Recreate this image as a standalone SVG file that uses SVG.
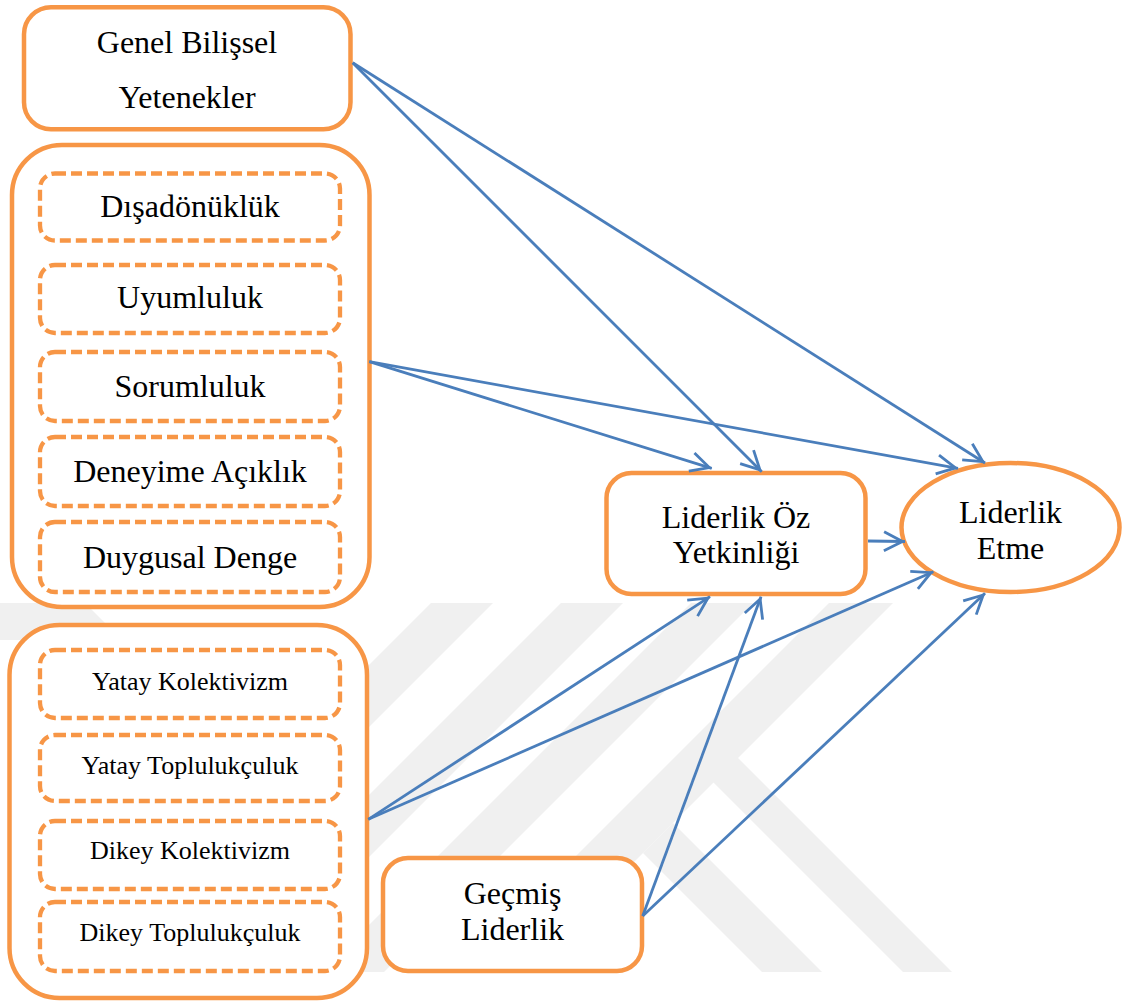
<svg xmlns="http://www.w3.org/2000/svg" width="1126" height="1005" viewBox="0 0 1126 1005">
  <style>
    .node { fill: #FFFFFF; stroke: #F79646; stroke-width: 4.5; }
    .dash { fill: #FFFFFF; stroke: #F79646; stroke-width: 4.3; stroke-dasharray: 11 5; }
    .t32 { font-family: "Liberation Serif", "Times New Roman", serif; font-size: 32px; fill: #000000; text-anchor: middle; }
    .t26 { font-family: "Liberation Serif", "Times New Roman", serif; font-size: 26px; fill: #000000; text-anchor: middle; }
    .conn { fill: none; stroke: #4A7EBB; stroke-width: 2.8; marker-end: url(#ah); }
    .wm { fill: #F0F0F0; stroke: none; }
  </style>
  <defs>
    <marker id="ah" markerUnits="userSpaceOnUse" markerWidth="30" markerHeight="30" viewBox="-25 -15 30 30" refX="0" refY="0" orient="auto" overflow="visible">
      <path d="M-21,-9.5 L-2.5,0 L-21,9.5" fill="none" stroke="#4A7EBB" stroke-width="2.8"/>
    </marker>
  </defs>
  <rect x="0" y="0" width="1126" height="1005" fill="#FFFFFF"/>

  <g id="watermark">
    <polygon class="wm" points="0,603 85,603 122,640 0,640"/>
    <polygon class="wm" points="431,603 493,603 124,972 62,972"/>
    <polygon class="wm" points="561,603 623,603 254,972 192,972"/>
    <polygon class="wm" points="691,603 753,603 384,972 322,972"/>
    <polygon class="wm" points="829,603 893,603 524,972 460,972"/>
    <polygon class="wm" points="737,757 952,972 903,972 713,782"/>
    <polygon class="wm" points="643,853 673,823 822,972 762,972"/>
  </g>

  <g id="node-genel">
    <rect class="node" x="24" y="7.3" width="326.5" height="122" rx="27"/>
    <text class="t32" x="187" y="53">Genel Bilişsel</text>
    <text class="t32" x="187" y="108">Yetenekler</text>
  </g>

  <g id="group-kisilik">
    <rect class="node" x="12" y="145" width="357.5" height="462" rx="50"/>
    <g id="node-disadonukluk">
      <rect class="dash" x="40" y="173.5" width="300" height="67" rx="15"/>
      <text class="t32" x="190" y="217">Dışadönüklük</text>
    </g>
    <g id="node-uyumluluk">
      <rect class="dash" x="40" y="265" width="300" height="68" rx="15"/>
      <text class="t32" x="190" y="308">Uyumluluk</text>
    </g>
    <g id="node-sorumluluk">
      <rect class="dash" x="40" y="352" width="300" height="69" rx="15"/>
      <text class="t32" x="190" y="396.5">Sorumluluk</text>
    </g>
    <g id="node-deneyime">
      <rect class="dash" x="40" y="437" width="300" height="69" rx="15"/>
      <text class="t32" x="190" y="481.5">Deneyime Açıklık</text>
    </g>
    <g id="node-duygusal">
      <rect class="dash" x="40" y="522" width="300" height="70" rx="15"/>
      <text class="t32" x="190" y="567.5">Duygusal Denge</text>
    </g>
  </g>

  <g id="group-kultur">
    <rect class="node" x="9.5" y="625" width="357.5" height="373" rx="50"/>
    <g id="node-yatay-kolektivizm">
      <rect class="dash" x="40" y="650" width="300" height="68" rx="15"/>
      <text class="t26" x="190" y="690">Yatay Kolektivizm</text>
    </g>
    <g id="node-yatay-toplulukculuk">
      <rect class="dash" x="40" y="735" width="300" height="66" rx="15"/>
      <text class="t26" x="190" y="773.5">Yatay Toplulukçuluk</text>
    </g>
    <g id="node-dikey-kolektivizm">
      <rect class="dash" x="40" y="821" width="300" height="68" rx="15"/>
      <text class="t26" x="190" y="859">Dikey Kolektivizm</text>
    </g>
    <g id="node-dikey-toplulukculuk">
      <rect class="dash" x="40" y="902" width="300" height="69" rx="15"/>
      <text class="t26" x="190" y="940.5">Dikey Toplulukçuluk</text>
    </g>
  </g>

  <g id="node-liderlik-oz">
    <rect class="node" x="606.5" y="473" width="259" height="121" rx="25"/>
    <text class="t32" x="736" y="527.5">Liderlik Öz</text>
    <text class="t32" x="736" y="562.5">Yetkinliği</text>
  </g>

  <g id="node-liderlik-etme">
    <ellipse class="node" cx="1010.5" cy="527.5" rx="109" ry="64.5"/>
    <text class="t32" x="1010.5" y="522.5">Liderlik</text>
    <text class="t32" x="1010.5" y="559">Etme</text>
  </g>

  <g id="node-gecmis">
    <rect class="node" x="383" y="858" width="259" height="113" rx="25"/>
    <text class="t32" x="512.5" y="903.5">Geçmiş</text>
    <text class="t32" x="512.5" y="940">Liderlik</text>
  </g>

  <g id="connectors">
    <line class="conn" x1="352.7" y1="62.7" x2="761.7" y2="471.7"/>
    <line class="conn" x1="352.7" y1="62.7" x2="985" y2="463"/>
    <line class="conn" x1="369.3" y1="361.7" x2="711.7" y2="468.3"/>
    <line class="conn" x1="369.3" y1="361.7" x2="958" y2="468.3"/>
    <line class="conn" x1="868" y1="541" x2="905" y2="541.5"/>
    <line class="conn" x1="368.3" y1="819.3" x2="710" y2="596.7"/>
    <line class="conn" x1="368.3" y1="819.3" x2="933.3" y2="571.7"/>
    <line class="conn" x1="642.7" y1="916" x2="761" y2="596.7"/>
    <line class="conn" x1="642.7" y1="916" x2="985" y2="593.3"/>
  </g>
</svg>
